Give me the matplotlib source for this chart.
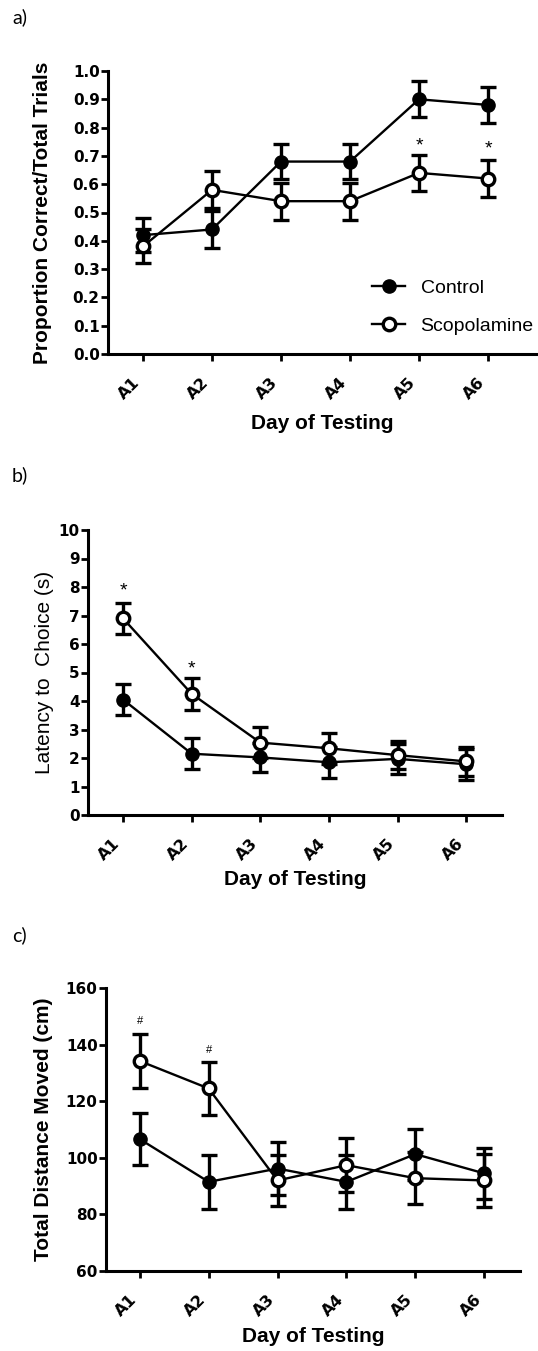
import matplotlib
matplotlib.use('Agg')
import matplotlib.pyplot as plt
from matplotlib.lines import Line2D

days = ['A1', 'A2', 'A3', 'A4', 'A5', 'A6']

# a) proportion correct
prop_control = [0.42, 0.44, 0.68, 0.68, 0.90, 0.88]
prop_control_err = [0.06, 0.065, 0.063, 0.063, 0.063, 0.062]
prop_scop = [0.38, 0.58, 0.54, 0.54, 0.64, 0.62]
prop_scop_err = [0.06, 0.065, 0.065, 0.065, 0.063, 0.064]
prop_stars = [(4, 0.75), (5, 0.738)]

# b) latency to choice
lat_control = [4.05, 2.15, 2.02, 1.85, 1.97, 1.78]
lat_control_err = [0.55, 0.55, 0.52, 0.54, 0.53, 0.55]
lat_scop = [6.9, 4.25, 2.54, 2.34, 2.1, 1.88]
lat_scop_err = [0.55, 0.56, 0.55, 0.55, 0.5, 0.52]
lat_stars = [(0, 8.0), (1, 5.26)]

# c) total distance
dist_control = [106.6, 91.5, 96.2, 91.5, 101.3, 94.5]
dist_control_err = [9.3, 9.5, 9.4, 9.5, 9.0, 9.1]
dist_scop = [134.2, 124.5, 92.0, 97.4, 92.8, 92.0]
dist_scop_err = [9.5, 9.5, 9.0, 9.5, 9.2, 9.3]
dist_hashes = [(0, 148.8), (1, 138.6)]

TICK_FONT = 'DejaVu Sans'
LABEL_FONT = 'Liberation Sans'

fig = plt.figure(figsize=(5.38, 13.51), dpi=100)
W, H = 538.0, 1351.0


def make_axes(left, right, top, bottom):
    return fig.add_axes([left / W, 1 - bottom / H, (right - left) / W, (bottom - top) / H])


def draw_series(ax, ctrl, ctrl_err, scop, scop_err):
    x = list(range(len(days)))
    ax.errorbar(x, ctrl, yerr=ctrl_err, fmt='none', ecolor='black', elinewidth=2.4,
                capsize=6, capthick=2.4, zorder=2)
    ax.errorbar(x, scop, yerr=scop_err, fmt='none', ecolor='black', elinewidth=2.4,
                capsize=6, capthick=2.4, zorder=2)
    ax.plot(x, ctrl, color='black', lw=1.7, marker='o', ms=9.5, mfc='black', mec='black',
            zorder=3, label='Control')
    ax.plot(x, scop, color='black', lw=1.7, marker='o', ms=9, mfc='white', mec='black',
            mew=2.4, zorder=4, label='Scopolamine')


def style_axes(ax, xlim, ylim, yticks, yfmt, ylabel, ylabel_x, xlabel_y, ylabel_weight='bold'):
    ax.set_xlim(*xlim)
    ax.set_ylim(*ylim)
    for s in ['top', 'right']:
        ax.spines[s].set_visible(False)
    for s in ['left', 'bottom']:
        ax.spines[s].set_linewidth(2.2)
    ax.set_xticks(range(len(days)))
    ax.set_xticklabels(days, rotation=45, ha='right', fontfamily=TICK_FONT,
                       fontweight='bold', fontsize=11.5)
    ax.set_yticks(yticks)
    ax.set_yticklabels([yfmt.format(v) for v in yticks], fontfamily=TICK_FONT,
                       fontweight='bold', fontsize=11)
    ax.tick_params(axis='y', direction='out', length=5, width=2, pad=1)
    ax.tick_params(axis='x', direction='out', length=5, width=2, pad=10)
    ax.set_xlabel('Day of Testing', fontfamily=LABEL_FONT, fontweight='bold', fontsize=15)
    ax.xaxis.set_label_coords(0.5, xlabel_y)
    ax.xaxis.label.set_verticalalignment('center')
    ax.set_ylabel(ylabel, fontfamily=LABEL_FONT, fontweight=ylabel_weight, fontsize=15)
    ax.yaxis.set_label_coords(ylabel_x, 0.5)
    ax.yaxis.label.set_verticalalignment('center')


def add_marks(ax, marks, text, size, offset):
    for xi, yv in marks:
        ax.annotate(text, (xi, yv), xytext=(0, offset), textcoords='offset points',
                    ha='center', va='baseline', fontsize=size, fontfamily=LABEL_FONT)


# panel a
ax1 = make_axes(108, 537, 71, 354)
draw_series(ax1, prop_control, prop_control_err, prop_scop, prop_scop_err)
style_axes(ax1, (-0.507, 5.71), (0, 1.0), [i / 10 for i in range(11)], '{:.1f}',
           'Proportion Correct/Total Trials', -0.152, -0.244)
add_marks(ax1, prop_stars, '*', 14, -6)
handles = [Line2D([], [], color='black', lw=1.7, marker='o', ms=9.5, mfc='black'),
           Line2D([], [], color='black', lw=1.7, marker='o', ms=9, mfc='white', mew=2.4)]
ax1.legend(handles, ['Control', 'Scopolamine'], loc='upper left', frameon=False,
           bbox_to_anchor=(372 / W, 1 - 279 / H), bbox_transform=fig.transFigure,
           borderpad=0, borderaxespad=0, handlelength=1.7, handletextpad=0.8,
           labelspacing=1.05, prop={'family': LABEL_FONT, 'size': 14})

# panel b
ax2 = make_axes(88, 502, 530, 815)
draw_series(ax2, lat_control, lat_control_err, lat_scop, lat_scop_err)
style_axes(ax2, (-0.51, 5.52), (0, 10), list(range(11)), '{:d}',
           'Latency to  Choice (s)', -0.106, -0.2246, ylabel_weight='normal')
add_marks(ax2, lat_stars, '*', 14, -6)

# panel c
ax3 = make_axes(106, 520, 988, 1271)
draw_series(ax3, dist_control, dist_control_err, dist_scop, dist_scop_err)
style_axes(ax3, (-0.49, 5.52), (60, 160), list(range(60, 161, 20)), '{:d}',
           'Total Distance Moved (cm)', -0.152, -0.233)
add_marks(ax3, dist_hashes, '#', 8, -3)

# panel letters
for label, ypix in [('a)', 17), ('b)', 475), ('c)', 935)]:
    fig.text(12 / W, 1 - ypix / H, label, fontsize=14, fontfamily='Lato',
             ha='left', va='center')

fig.savefig('out.png', dpi=100)
